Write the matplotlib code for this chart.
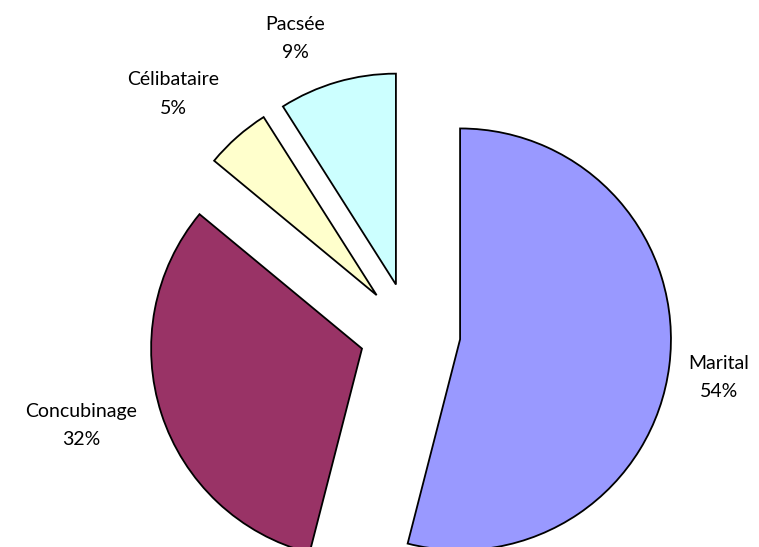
import matplotlib
matplotlib.use("Agg")
import matplotlib.pyplot as plt

# Répartition par statut
categories = ["Marital", "Concubinage", "Célibataire", "Pacsée"]
valeurs = [54, 32, 5, 9]
couleurs = ["#9999FF", "#993366", "#FFFFCC", "#CCFFFF"]

# positions des étiquettes (fraction de la figure)
pos_etiquettes = [(0.947, 0.310), (0.107, 0.222), (0.228, 0.828), (0.389, 0.930)]

fig = plt.figure(figsize=(7.59, 5.47), dpi=100)
ax = fig.add_axes([0, 0, 1, 1])

ax.pie(valeurs, colors=couleurs, startangle=90, counterclock=False,
       explode=[0.237] * len(valeurs), radius=0.99,
       wedgeprops=dict(edgecolor="black", linewidth=1.3))

# centre du camembert à (410, 333) px, rayon ~213 px
ax.set_xlim(-410 / 213, (759 - 410) / 213)
ax.set_ylim(-(547 - 333) / 213, 333 / 213)
ax.set_aspect("auto")
ax.axis("off")

for nom, val, (fx, fy) in zip(categories, valeurs, pos_etiquettes):
    fig.text(fx, fy, f"{nom}\n{val}%", ha="center", va="center",
             fontsize=14, family="Lato", linespacing=1.8)

fig.savefig("out.png", dpi=100)
